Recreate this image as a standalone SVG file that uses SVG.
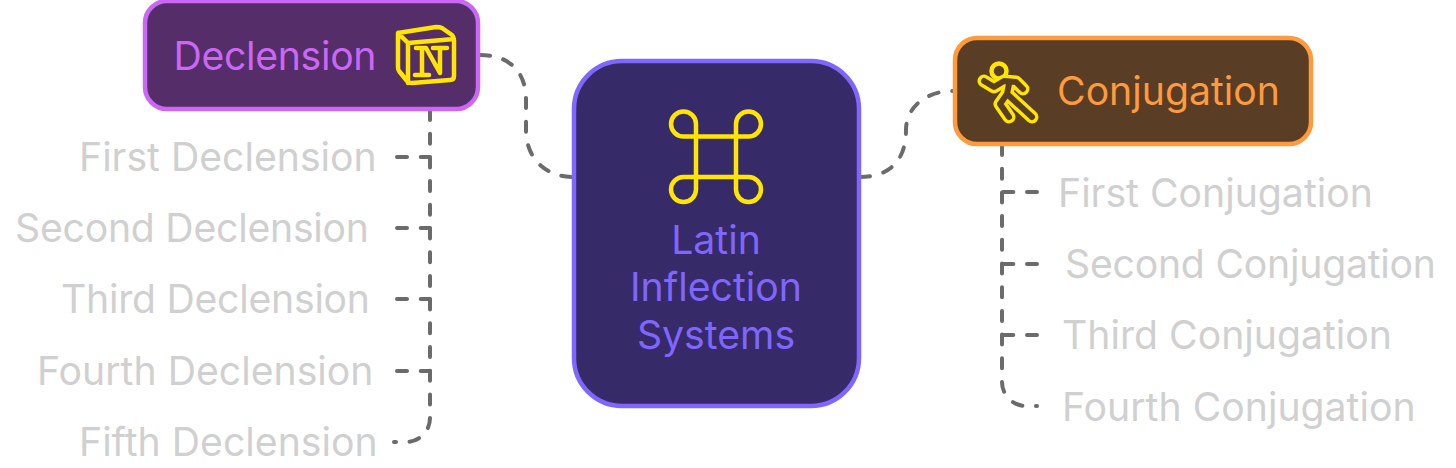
<svg xmlns="http://www.w3.org/2000/svg" width="1456" height="468" viewBox="0 0 1456 468">
<style>
text{font-family:Inter,"Liberation Sans",sans-serif;font-size:39.2px}
.l{fill:#d0d0d0}
.c{fill:none;stroke:#6b6b6b;stroke-width:4;stroke-linecap:round;stroke-dasharray:10 13.7}
.i{fill:none;stroke:#ffe600;stroke-width:4.5;stroke-linejoin:round;stroke-linecap:round}
</style>
<defs><path id="runner" d="M984 81L994 87L1004 81L1016 82L1023 89M1009 84L1007 94L1032 117M1007 94L1000 104L1009 117" stroke-linejoin="round" stroke-linecap="round" fill="none"/></defs>
<rect width="1456" height="468" fill="#fff"/>
<g id="connectors">
<path class="c" d="M480 55C510 55 526 72 526 100V130C526 158 545 177 574 177"/>
<path class="c" d="M860 177C890 177 906 160 906 130C906 108 925 91 953 91"/>
<path class="c" d="M430 110V418A24 24 0 0 1 406 442H394"/>
<path class="c" d="M397 157H430"/><path class="c" d="M397 228H430"/><path class="c" d="M397 299H430"/><path class="c" d="M397 371H430"/>
<path class="c" d="M1002 145V382A24 24 0 0 0 1026 406H1037"/>
<path class="c" d="M1037 192H1002"/><path class="c" d="M1037 264H1002"/><path class="c" d="M1037 335H1002"/>
</g>
<g id="node-declension">
<rect x="145" y="1" width="333" height="108" rx="22" fill="#542d69" stroke="#cc66f5" stroke-width="4.5"/>
<text x="173.500" y="70" fill="#cc66f5" textLength="203">Declension</text>
<path class="i" d="M398 33L436 27Q440 27 442 28L452 35Q454 37 454 40V76Q454 80 450 80L412 83Q409 83 407 81L399 71Q398 70 398 67ZM398 33L408 43L454 39M408 43V83M416 48H426L440 73V48M433 48H447M422 48V75M415 75H429"/>
</g>
<g id="node-center">
<rect x="574" y="61" width="285" height="345" rx="48" fill="#372a68" stroke="#7f66ff" stroke-width="4.5"/>
<path class="i" d="M696 124A12.5 12.5 0 1 0 683.5 136.5H748.5A12.5 12.5 0 1 0 736 124V189.5A12.5 12.5 0 1 0 748.5 177H683.5A12.5 12.5 0 1 0 696 189.5Z"/>
<g fill="#7f66ff" text-anchor="middle">
<text x="716" y="254">Latin</text>
<text x="716" y="301">Inflection</text>
<text x="716" y="349">Systems</text>
</g>
</g>
<g id="node-conjugation">
<rect x="955" y="38" width="356" height="106" rx="22" fill="#5a3d25" stroke="#ff9a3d" stroke-width="4.5"/>
<circle cx="999" cy="71" r="7.5" class="i"/>
<use href="#runner" stroke="#ffe600" stroke-width="13"/>
<use href="#runner" stroke="#5a3d25" stroke-width="6"/>
<text x="1057" y="105" fill="#ff9a3d">Conjugation</text>
</g>
<g id="label-first-declension"><text class="l" x="79" y="171">First Declension</text></g>
<g id="label-second-declension"><text class="l" x="15" y="242" textLength="354">Second Declension</text></g>
<g id="label-third-declension"><text class="l" x="61" y="313" textLength="309">Third Declension</text></g>
<g id="label-fourth-declension"><text class="l" x="37" y="385">Fourth Declension</text></g>
<g id="label-fifth-declension"><text class="l" x="79" y="456">Fifth Declension</text></g>
<g id="label-first-conjugation"><text class="l" x="1058" y="207">First Conjugation</text></g>
<g id="label-second-conjugation"><text class="l" x="1065" y="278" textLength="371">Second Conjugation</text></g>
<g id="label-third-conjugation"><text class="l" x="1062" y="349">Third Conjugation</text></g>
<g id="label-fourth-conjugation"><text class="l" x="1062" y="421">Fourth Conjugation</text></g>
</svg>
